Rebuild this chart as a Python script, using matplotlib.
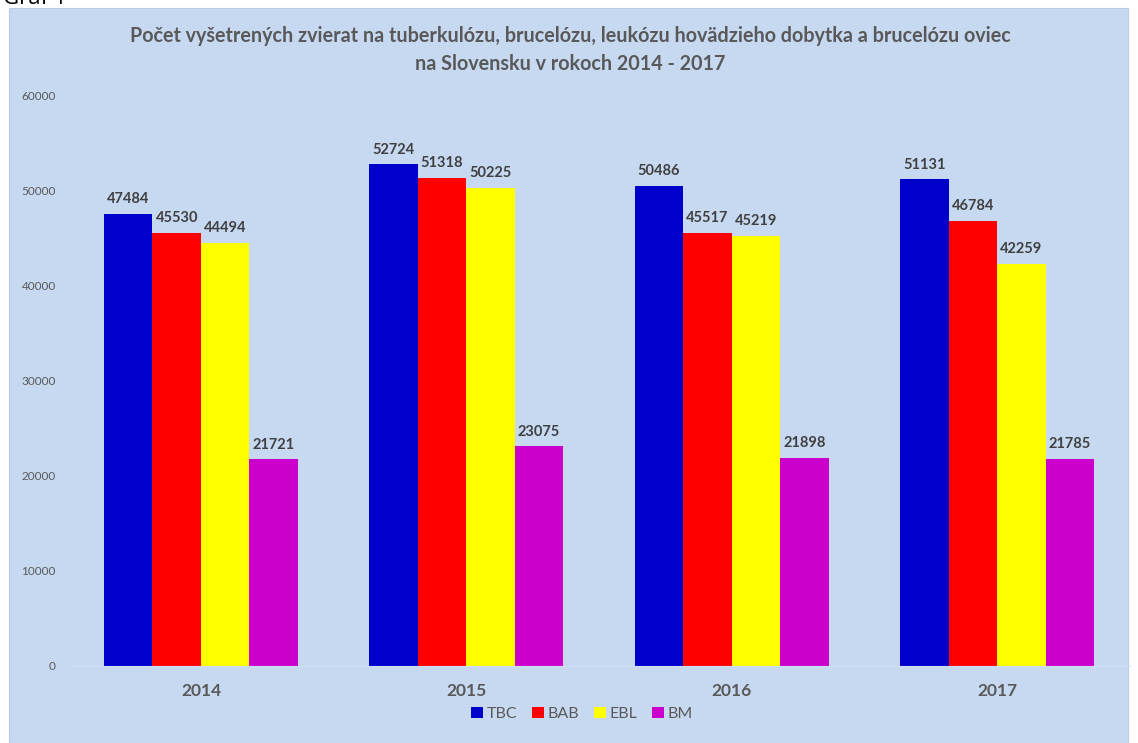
import numpy as np
import matplotlib.pyplot as plt
from matplotlib.patches import Rectangle

plt.rcParams['font.family'] = ['Lato', 'DejaVu Sans']

# Data
years = ['2014', '2015', '2016', '2017']
series_names = ['TBC', 'BAB', 'EBL', 'BM']
tbc = [47484, 52724, 50486, 51131]
bab = [45530, 51318, 45517, 46784]
ebl = [44494, 50225, 45219, 42259]
bm = [21721, 23075, 21898, 21785]
y_ticks = [0, 10000, 20000, 30000, 40000, 50000, 60000]

colors = ['#0000CC', '#FF0000', '#FFFF00', '#CC00CC']
bg = '#C6D9F1'
text_col = '#595959'

fig = plt.figure(figsize=(11.38, 7.43), dpi=100)
fig.patch.set_facecolor('white')

# light blue chart area
fig.patches.append(Rectangle((9 / 1138, 0), (1128 - 9) / 1138, (743 - 8) / 743,
                             transform=fig.transFigure, facecolor=bg,
                             edgecolor='#B8CCE4', linewidth=0.8, zorder=-5))
fig.text(3 / 1138, 1 - 4 / 743, 'Graf 1', fontsize=16, color='black',
         ha='left', va='baseline', family=['Open Sans', 'DejaVu Sans'])

ax = fig.add_axes([68.3 / 1138, 1 - 666 / 743, (1129.7 - 68.3) / 1138, (666 - 95) / 743])
ax.set_facecolor('none')

x = np.arange(len(years))
width = 0.1828
all_series = [tbc, bab, ebl, bm]
for i, (name, vals) in enumerate(zip(series_names, all_series)):
    bars = ax.bar(x + (i - 1.5) * width, vals, width, color=colors[i], label=name,
                  edgecolor='none')
    ax.bar_label(bars, labels=[str(v) for v in vals], padding=5.5, fontsize=10.5,
                 fontweight='bold', color='#404040')

ax.set_xlim(-0.5, len(years) - 0.5)
ax.set_ylim(0, 60000)
ax.set_yticks(y_ticks)
ax.set_yticklabels([str(v) for v in y_ticks], fontsize=8.5, color=text_col)
ax.set_xticks(x)
ax.set_xticklabels(years, fontsize=12.5, fontweight='bold', color=text_col)
ax.tick_params(axis='both', length=0)
ax.tick_params(axis='y', pad=9)
ax.tick_params(axis='x', pad=12)
for side in ['top', 'right', 'left']:
    ax.spines[side].set_visible(False)
ax.spines['bottom'].set_color('#D0DEF2')
ax.spines['bottom'].set_linewidth(0.8)

fig.text(570 / 1138, 1 - 50 / 743,
         'Počet vyšetrených zvierat na tuberkulózu, brucelózu, leukózu hovädzieho dobytka a brucelózu oviec\n'
         'na Slovensku v rokoch 2014 - 2017',
         ha='center', va='center', fontsize=14.2, fontweight='bold', color=text_col,
         linespacing=1.5)

fig.legend(loc='center', bbox_to_anchor=(582 / 1138, 29 / 743), ncol=4, frameon=False,
           fontsize=11.5, handlelength=0.75, handleheight=0.75, handletextpad=0.25,
           columnspacing=0.9, labelcolor=text_col)

fig.savefig('out.png', dpi=100, facecolor=fig.get_facecolor())
